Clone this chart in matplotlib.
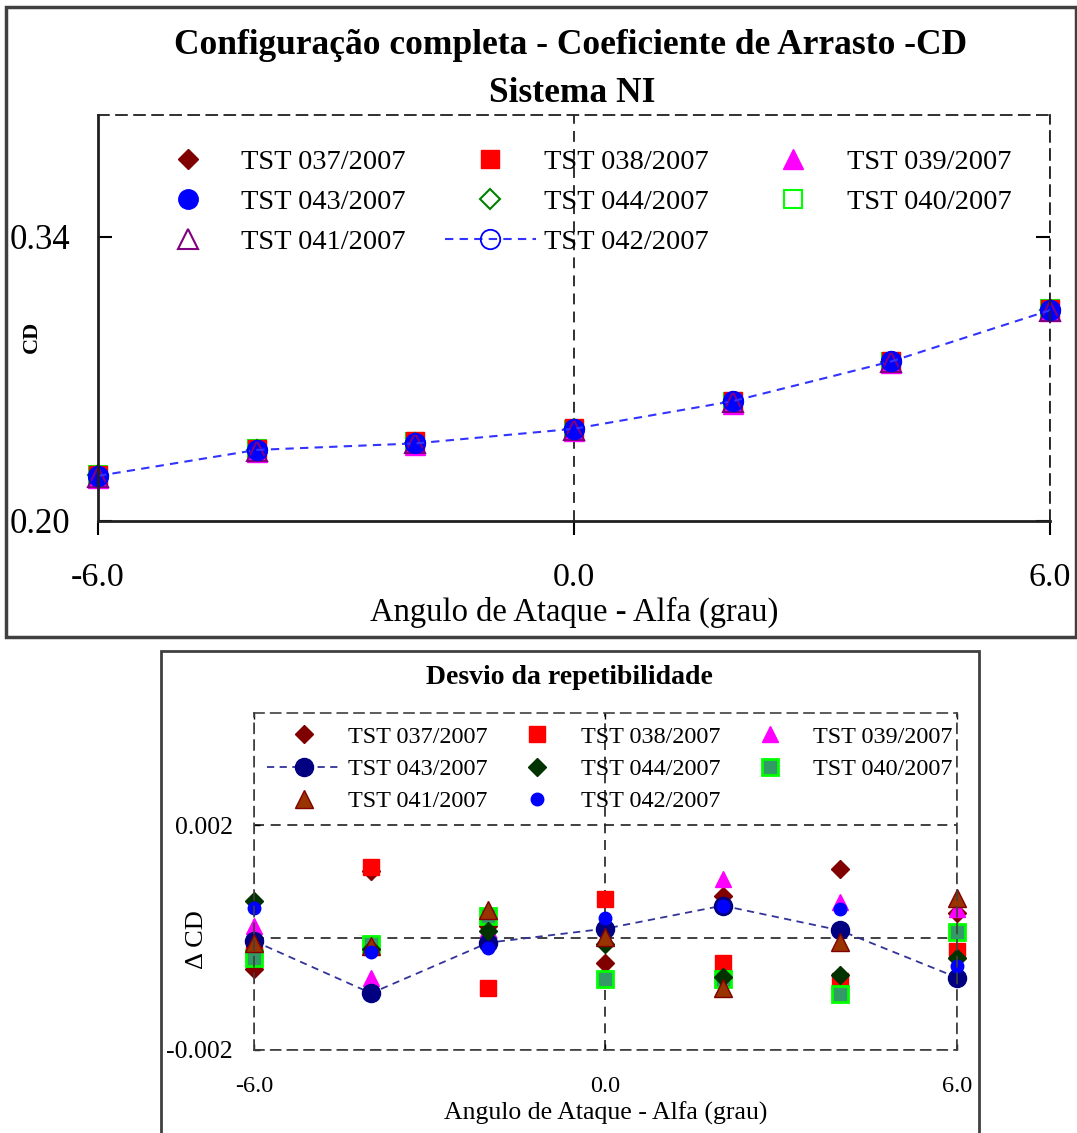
import numpy as np
import matplotlib.pyplot as plt
from matplotlib.patches import Rectangle

plt.rcParams['font.family'] = ['Liberation Serif', 'DejaVu Serif']

alfa = [-6, -4, -2, 0, 2, 4, 6]
tests = ['TST 037/2007', 'TST 038/2007', 'TST 039/2007', 'TST 043/2007',
         'TST 044/2007', 'TST 040/2007', 'TST 041/2007', 'TST 042/2007']

# drag coefficient per run
cd_037 = [0.2222, 0.2350, 0.2383, 0.2452, 0.2588, 0.2787, 0.3043]
cd_038 = [0.2226, 0.2355, 0.2392, 0.2458, 0.2592, 0.2790, 0.3044]
cd_039 = [0.2212, 0.2341, 0.2376, 0.2444, 0.2578, 0.2778, 0.3032]
cd_043 = [0.2222, 0.2349, 0.2382, 0.2453, 0.2589, 0.2787, 0.3039]
cd_044 = [0.2224, 0.2349, 0.2383, 0.2451, 0.2586, 0.2784, 0.3039]
cd_040 = [0.2224, 0.2353, 0.2388, 0.2450, 0.2584, 0.2784, 0.3044]
cd_041 = [0.2216, 0.2344, 0.2384, 0.2448, 0.2584, 0.2782, 0.3036]
cd_042 = [0.2222, 0.2350, 0.2382, 0.2454, 0.2590, 0.2786, 0.3038]

# repeatability deviation per run
dcd_037 = [-0.00056, 0.00119, 0.00020, -0.00045, 0.00075, 0.00123, 0.00043]
dcd_038 = [-0.00030, 0.00125, -0.00089, 0.00069, -0.00046, -0.00078, -0.00024]
dcd_039 = [0.00020, -0.00071, 0.00015, 0.00000, 0.00104, 0.00063, 0.00051]
dcd_043 = [-0.00006, -0.00099, -0.00009, 0.00016, 0.00057, 0.00013, -0.00071]
dcd_044 = [0.00066, -0.00020, 0.00011, -0.00011, -0.00070, -0.00066, -0.00036]
dcd_040 = [-0.00037, -0.00012, 0.00039, -0.00074, -0.00073, -0.00100, 0.00010]
dcd_041 = [-0.00010, -0.00015, 0.00049, 0.00002, -0.00090, -0.00008, 0.00071]
dcd_042 = [0.00052, -0.00025, -0.00018, 0.00035, 0.00057, 0.00051, -0.00051]

fig = plt.figure(figsize=(10.77, 11.33), dpi=100)

# panel frames
fig.add_artist(Rectangle((0.0056, 0.4378), 0.9935, 0.556, transform=fig.transFigure,
                         fill=False, ec='#404040', lw=2.5))
fig.add_artist(Rectangle((0.1495, -0.01), 0.7595, 0.4354, transform=fig.transFigure,
                         fill=False, ec='#404040', lw=2))

# ---------------- top chart ----------------
ax1 = fig.add_axes([0.0910, 0.5402, 0.8839, 0.3583])
kw = dict(clip_on=False)
ax1.plot(alfa, cd_040, ls='none', marker='s', ms=13, mfc='none', mec='#00ff00', mew=1.5, label=tests[5], **kw)
ax1.plot(alfa, cd_038, ls='none', marker='s', ms=13, color='red', label=tests[1], **kw)
ax1.plot(alfa, cd_044, ls='none', marker='D', ms=10, mfc='none', mec='#008000', mew=1.5, label=tests[4], **kw)
ax1.plot(alfa, cd_039, ls='none', marker='^', ms=14, color='magenta', label=tests[2], **kw)
ax1.plot(alfa, cd_037, ls='none', marker='D', ms=10.5, color='#800000', label=tests[0], **kw)
ax1.plot(alfa, cd_043, ls='none', marker='o', ms=14, color='blue', label=tests[3], **kw)
ax1.plot(alfa, cd_041, ls='none', marker='^', ms=14, mfc='none', mec='#800080', mew=1.5, label=tests[6], **kw)
ax1.plot(alfa, cd_042, ls=(0, (4, 3)), lw=1.5, color='#3333ff', marker='o', ms=14,
         mfc='none', mec='blue', mew=1.3, label=tests[7], **kw)

ax1.set_xlim(-6, 6)
ax1.set_ylim(0.20, 0.40)
ax1.set_xticks([-6, 0, 6])
ax1.set_xticklabels(['-6.0', '0.0', '6.0'])
ax1.set_yticks([0.20, 0.34])
ax1.set_yticklabels(['0.20', '0.34'])
ax1.tick_params(axis='x', direction='out', length=10, width=1.5, pad=20, labelsize=24.5)
ax1.tick_params(axis='y', direction='in', length=10, width=1.5, pad=20, labelsize=25,
                left=True, right=True)
ax1.xaxis.grid(True, color='#202020', ls=(0, (6, 4)), lw=1.3)
for s in ['left', 'bottom']:
    ax1.spines[s].set_linewidth(2)
    ax1.spines[s].set_color('#202020')
for s in ['top', 'right']:
    ax1.spines[s].set_linestyle((0, (6, 4)))
    ax1.spines[s].set_linewidth(1.3)
    ax1.spines[s].set_color('#202020')

ax1.set_xlabel('Angulo de Ataque - Alfa (grau)', fontsize=23.5)
ax1.xaxis.set_label_coords(0.5, -0.225)
ax1.xaxis.label.set_va('center')
ax1.set_ylabel('CD', fontsize=16, fontweight='bold')
ax1.yaxis.set_label_coords(-0.0695, 0.453)
ax1.yaxis.label.set_va('center')

h, l = ax1.get_legend_handles_labels()
by = dict(zip(l, h))
order = [tests[i] for i in [0, 3, 6, 1, 4, 7, 2, 5]]
ax1.legend([by[k] for k in order], order, loc='upper left', ncol=3, frameon=False,
           bbox_to_anchor=(0.1318, 0.8685), bbox_transform=fig.transFigure,
           borderpad=0, borderaxespad=0, fontsize=20.5, handlelength=3.2,
           handletextpad=0.28, columnspacing=1.37, labelspacing=0.5)

fig.text(0.530, 1 - 46 / 1133, 'Configuração completa - Coeficiente de Arrasto -CD',
         ha='center', va='center', fontsize=25.5, fontweight='bold')
fig.text(0.531, 1 - 93 / 1133, 'Sistema NI', ha='center', va='center',
         fontsize=25.5, fontweight='bold')

# ---------------- bottom chart ----------------
ax2 = fig.add_axes([0.2358, 0.0733, 0.6528, 0.2974])
ax2.plot(alfa, dcd_037, ls='none', marker='D', ms=9, color='#800000', label=tests[0], **kw)
ax2.plot(alfa, dcd_038, ls='none', marker='s', ms=12, color='red', label=tests[1], **kw)
ax2.plot(alfa, dcd_039, ls='none', marker='^', ms=12, color='magenta', label=tests[2], **kw)
ax2.plot(alfa, dcd_043, ls=(0, (4, 3)), lw=1.3, color='#333399', marker='o', ms=13,
         mfc='#000080', mec='#000080', label=tests[3], **kw)
ax2.plot(alfa, dcd_040, ls='none', marker='s', ms=12, mfc='#339966', mec='#00ff00', mew=2,
         label=tests[5], **kw)
ax2.plot(alfa, dcd_044, ls='none', marker='D', ms=9, color='#003300', label=tests[4], **kw)
ax2.plot(alfa, dcd_041, ls='none', marker='^', ms=13, mfc='#993300', mec='#800000', mew=1,
         label=tests[6], **kw)
ax2.plot(alfa, dcd_042, ls='none', marker='o', ms=9, color='blue', label=tests[7], **kw)

ax2.set_xlim(-6, 6)
ax2.set_ylim(-0.002, 0.004)
ax2.set_xticks([-6, 0, 6])
ax2.set_xticklabels(['-6.0', '0.0', '6.0'])
ax2.set_yticks([-0.002, 0.0, 0.002])
ax2.set_yticklabels(['-0.002', '', '0.002'])
ax2.tick_params(axis='both', direction='in', length=4, width=1, labelsize=18.5)
ax2.tick_params(axis='x', pad=19, top=True, labelsize=17.5)
ax2.tick_params(axis='y', pad=15)
ax2.grid(True, color='#202020', ls=(0, (6, 4)), lw=1.2)
for s in ax2.spines.values():
    s.set_linestyle((0, (6, 4)))
    s.set_linewidth(1.2)
    s.set_color('#404040')

ax2.set_xlabel('Angulo de Ataque - Alfa (grau)', fontsize=18.5)
ax2.xaxis.set_label_coords(0.5, -0.188)
ax2.xaxis.label.set_va('center')
ax2.set_ylabel('Δ CD', fontsize=19)
ax2.yaxis.set_label_coords(-0.081, 0.326)
ax2.yaxis.label.set_va('center')

h2, l2 = ax2.get_legend_handles_labels()
by2 = dict(zip(l2, h2))
ax2.legend([by2[k] for k in order], order, loc='upper left', ncol=3, frameon=False,
           bbox_to_anchor=(0.2479, 0.3592), bbox_transform=fig.transFigure,
           borderpad=0, borderaxespad=0, fontsize=17.4, handlelength=3.1,
           handletextpad=0.25, columnspacing=0.5, labelspacing=0.42)

fig.text(0.529, 1 - 677 / 1133, 'Desvio da repetibilidade', ha='center', va='center',
         fontsize=20, fontweight='bold')

fig.savefig('out.png', dpi=100)
